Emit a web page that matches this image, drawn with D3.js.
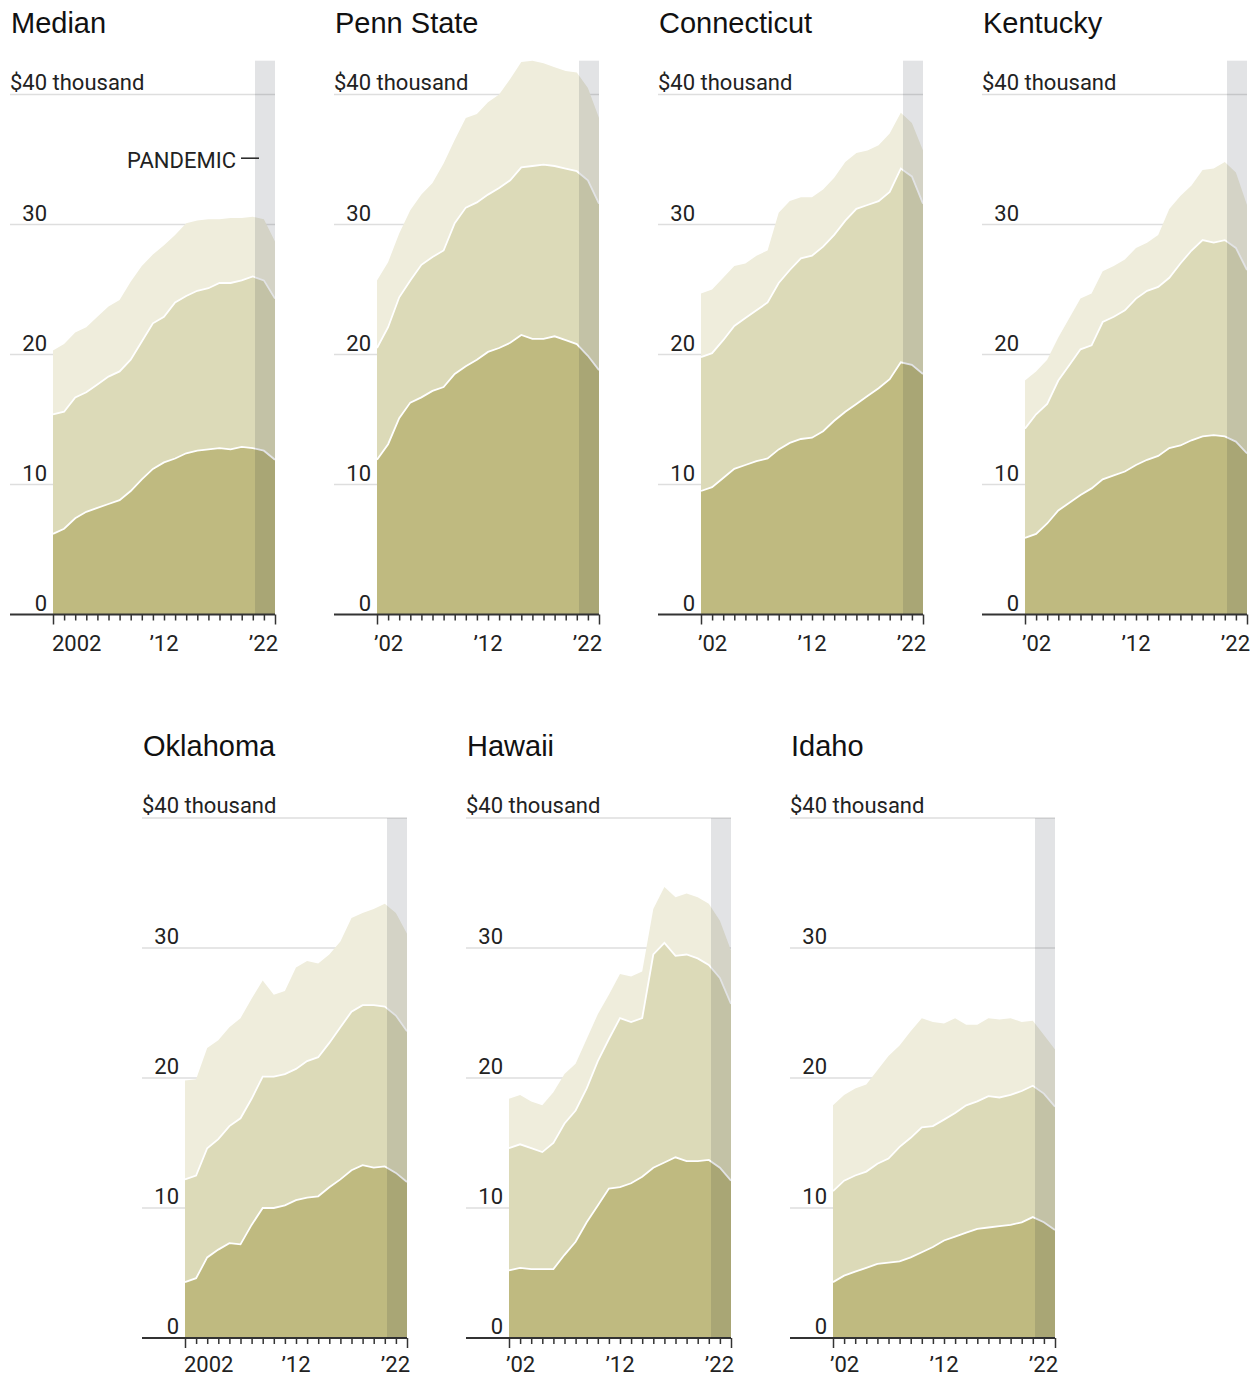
<!DOCTYPE html>
<html lang="en">
<head>
  <meta charset="UTF-8">
  <title>Cost of college by state</title>
  <script src="https://d3js.org/d3.v7.min.js"></script>
  <style>
    body { margin: 0; background: #fff; }
    .title { font-family: "Liberation Sans", Arial, sans-serif; font-size: 29px; fill: #111; }
    .lbl { font-family: Roboto, sans-serif; font-size: 22px; fill: #222; }
    .grid { stroke: #dedede; stroke-width: 1.5px; }
    .edge { fill: none; stroke: #fff; stroke-width: 1.8px; }
    .band { fill: #0d1526; fill-opacity: 0.12; }
    .axis path { display: none; }
    .axis line { stroke: #333; stroke-width: 1.5px; }
  </style>
</head>
<body>
<svg id="svg" width="1252" height="1376"></svg>
<script>
// years on the x axis
const years = d3.range(2002, 2023);
const yTicks = [10, 20, 30, 40];
const pandemicStart = 2020.2;

// panel names, two rows
const topRow = ["Median", "Penn State", "Connecticut", "Kentucky"];
const bottomRow = ["Oklahoma", "Hawaii", "Idaho"];

// stacked levels, thousands of dollars: top of the lowest layer, top of the middle layer, total
const medianLow = [6.2,6.6,7.4,7.9,8.2,8.5,8.8,9.5,10.4,11.2,11.7,12.0,12.4,12.6,12.7,12.8,12.7,12.9,12.8,12.6,11.9];
const medianMid = [15.4,15.6,16.7,17.1,17.7,18.3,18.7,19.6,21.0,22.4,22.9,24.0,24.5,24.9,25.1,25.5,25.5,25.7,26.0,25.7,24.3];
const medianTop = [20.3,20.8,21.7,22.1,22.9,23.7,24.2,25.6,26.8,27.7,28.4,29.2,30.1,30.3,30.4,30.4,30.5,30.5,30.6,30.4,28.7];

const pennLow = [11.9,13.1,15.1,16.3,16.7,17.2,17.5,18.5,19.1,19.6,20.2,20.5,20.9,21.5,21.2,21.2,21.4,21.1,20.8,19.9,18.8];
const pennMid = [20.5,22.1,24.4,25.7,26.9,27.5,28.0,30.1,31.3,31.7,32.3,32.8,33.4,34.4,34.5,34.6,34.5,34.3,34.1,33.4,31.6];
const pennTop = [25.7,27.1,29.3,31.1,32.3,33.2,34.7,36.5,38.2,38.5,39.4,40.0,41.2,42.5,42.6,42.4,42.1,41.8,41.7,40.5,38.2];

const connLow = [9.5,9.8,10.5,11.2,11.5,11.8,12.0,12.7,13.2,13.5,13.6,14.1,14.9,15.6,16.2,16.8,17.4,18.1,19.4,19.2,18.5];
const connMid = [19.8,20.1,21.1,22.2,22.8,23.4,24.0,25.5,26.5,27.4,27.6,28.3,29.2,30.3,31.2,31.5,31.8,32.5,34.3,33.7,31.6];
const connTop = [24.7,25.0,25.9,26.8,27.0,27.6,28.0,30.9,31.8,32.1,32.1,32.7,33.6,34.8,35.5,35.7,36.1,37.0,38.6,37.8,35.7];

const kyLow = [5.9,6.2,7.0,8.0,8.6,9.2,9.7,10.4,10.7,11.0,11.5,11.9,12.2,12.8,13.0,13.4,13.7,13.8,13.7,13.3,12.4];
const kyMid = [14.3,15.4,16.2,18.0,19.2,20.4,20.7,22.5,22.9,23.4,24.3,24.9,25.2,25.9,27.0,28.0,28.8,28.6,28.8,28.2,26.5];
const kyTop = [18.0,18.7,19.6,21.3,22.8,24.3,24.7,26.4,26.8,27.3,28.2,28.6,29.2,31.2,32.2,33.0,34.2,34.3,34.8,34.0,31.5];

const okLow = [4.3,4.6,6.2,6.8,7.3,7.2,8.7,10.0,10.0,10.2,10.6,10.8,10.9,11.6,12.2,12.9,13.3,13.1,13.2,12.7,12.0];
const okMid = [12.2,12.5,14.6,15.3,16.3,16.9,18.4,20.1,20.1,20.3,20.7,21.3,21.6,22.7,23.9,25.1,25.6,25.6,25.5,24.8,23.6];
const okTop = [19.8,19.9,22.3,22.9,23.9,24.6,26.1,27.5,26.4,26.7,28.5,29.0,28.8,29.5,30.5,32.3,32.7,33.0,33.4,32.7,31.1];

const hiLow = [5.2,5.4,5.3,5.3,5.3,6.4,7.4,8.9,10.2,11.5,11.6,11.9,12.4,13.1,13.5,13.9,13.6,13.6,13.7,13.1,12.1];
const hiMid = [14.6,14.9,14.6,14.3,15.0,16.5,17.5,19.2,21.3,23.0,24.6,24.3,24.6,29.5,30.4,29.4,29.5,29.2,28.7,27.7,25.7];
const hiTop = [18.4,18.7,18.2,17.9,18.9,20.3,21.1,23.0,24.9,26.4,28.0,27.8,28.2,33.0,34.7,33.9,34.2,33.9,33.4,32.1,29.8];

const idLow = [4.3,4.8,5.1,5.4,5.7,5.8,5.9,6.2,6.6,7.0,7.5,7.8,8.1,8.4,8.5,8.6,8.7,8.9,9.3,8.9,8.3];
const idMid = [11.3,12.1,12.5,12.8,13.4,13.8,14.7,15.4,16.2,16.3,16.8,17.3,17.9,18.2,18.6,18.5,18.7,19.0,19.4,18.8,17.8];
const idTop = [17.9,18.7,19.2,19.5,20.6,21.7,22.5,23.6,24.6,24.3,24.2,24.6,24.1,24.1,24.6,24.5,24.6,24.3,24.4,23.3,22.2];

const levels = {
  "Median": [medianLow, medianMid, medianTop],
  "Penn State": [pennLow, pennMid, pennTop],
  "Connecticut": [connLow, connMid, connTop],
  "Kentucky": [kyLow, kyMid, kyTop],
  "Oklahoma": [okLow, okMid, okTop],
  "Hawaii": [hiLow, hiMid, hiTop],
  "Idaho": [idLow, idMid, idTop]
};

const colours = ["#bfba80", "#dcdab8", "#efeddc"];

const svg = d3.select("#svg");

// layout
const panelW = 324, plotL = 43, plotR = 265;
const rows = [
  { names: topRow, left: 10, base: 614.5, titleY: 33, labelDy: 36 },
  { names: bottomRow, left: 142, base: 1338, titleY: 756, labelDy: 34 }
];

rows.forEach(row => {
  const rowMax = Math.max(40, d3.max(row.names, n => d3.max(levels[n][2])));
  const y = d3.scaleLinear().domain([0, 40]).range([row.base, row.base - 520]);

  row.names.forEach((name, i) => {
    const ox = row.left + i * panelW;
    const x = d3.scaleLinear().domain([2002, 2022]).range([ox + plotL, ox + plotR]);
    const g = svg.append("g");
    const [low, mid, top] = levels[name];

    g.append("text").attr("class", "title")
      .attr("x", ox + 1).attr("y", row.titleY).text(name);

    // gridlines
    g.selectAll(".grid").data(yTicks).join("line")
      .attr("class", "grid")
      .attr("x1", ox).attr("x2", ox + plotR)
      .attr("y1", d => y(d)).attr("y2", d => y(d));

    // stacked areas
    const layers = [
      { y0: () => 0, y1: j => low[j] },
      { y0: j => low[j], y1: j => mid[j] },
      { y0: j => mid[j], y1: j => top[j] }
    ];
    layers.forEach((l, k) => {
      g.append("path")
        .datum(years.map((yr, j) => j))
        .attr("fill", colours[k])
        .attr("d", d3.area()
          .x(j => x(years[j]))
          .y0(j => y(l.y0(j)))
          .y1(j => y(l.y1(j))));
    });
    [low, mid].forEach(s => {
      g.append("path")
        .datum(s)
        .attr("class", "edge")
        .attr("d", d3.line().x((v, j) => x(years[j])).y(v => y(v)));
    });

    // x axis
    g.append("line")
      .attr("x1", ox).attr("x2", ox + plotR)
      .attr("y1", y(0)).attr("y2", y(0))
      .attr("stroke", "#333").attr("stroke-width", 2);
    const ax = g.append("g").attr("class", "axis")
      .attr("transform", `translate(0,${y(0)})`)
      .call(d3.axisBottom(x).tickValues(years).tickSizeInner(6).tickSizeOuter(0).tickFormat(""));
    ax.selectAll(".tick line").filter(d => d === 2002 || d === 2022).attr("y2", 10);

    // pandemic band
    g.append("rect").attr("class", "band")
      .attr("x", x(pandemicStart)).attr("width", x(2022) - x(pandemicStart))
      .attr("y", y(rowMax)).attr("height", y(0) - y(rowMax));

    // y labels
    g.append("text").attr("class", "lbl")
      .attr("x", ox).attr("y", y(40) - 5).text("$40 thousand");
    g.selectAll(".ylbl").data([0, 10, 20, 30]).join("text")
      .attr("class", "lbl ylbl")
      .attr("text-anchor", "end")
      .attr("x", ox + plotL - 6).attr("y", d => y(d) - 4)
      .text(d => d);

    // x labels
    const first = i === 0 ? "2002" : "\u201902";
    const xl = [
      { v: 2002, t: first, a: "start", dx: i === 0 ? -1 : -3 },
      { v: 2012, t: "\u201912", a: "middle", dx: 0 },
      { v: 2022, t: "\u201922", a: "end", dx: 3 }
    ];
    g.selectAll(".xlbl").data(xl).join("text")
      .attr("class", "lbl xlbl")
      .attr("text-anchor", d => d.a)
      .attr("x", d => x(d.v) + d.dx).attr("y", y(0) + row.labelDy)
      .text(d => d.t);

    if (name === "Median") {
      g.append("text").attr("class", "lbl")
        .attr("text-anchor", "end")
        .attr("x", x(pandemicStart) - 19).attr("y", y(34.35))
        .text("PANDEMIC");
      g.append("line")
        .attr("x1", x(pandemicStart) - 14).attr("x2", x(pandemicStart) + 4)
        .attr("y1", y(35.1)).attr("y2", y(35.1))
        .attr("stroke", "#222").attr("stroke-width", 1.5);
    }
  });
});
</script>
</body>
</html>
